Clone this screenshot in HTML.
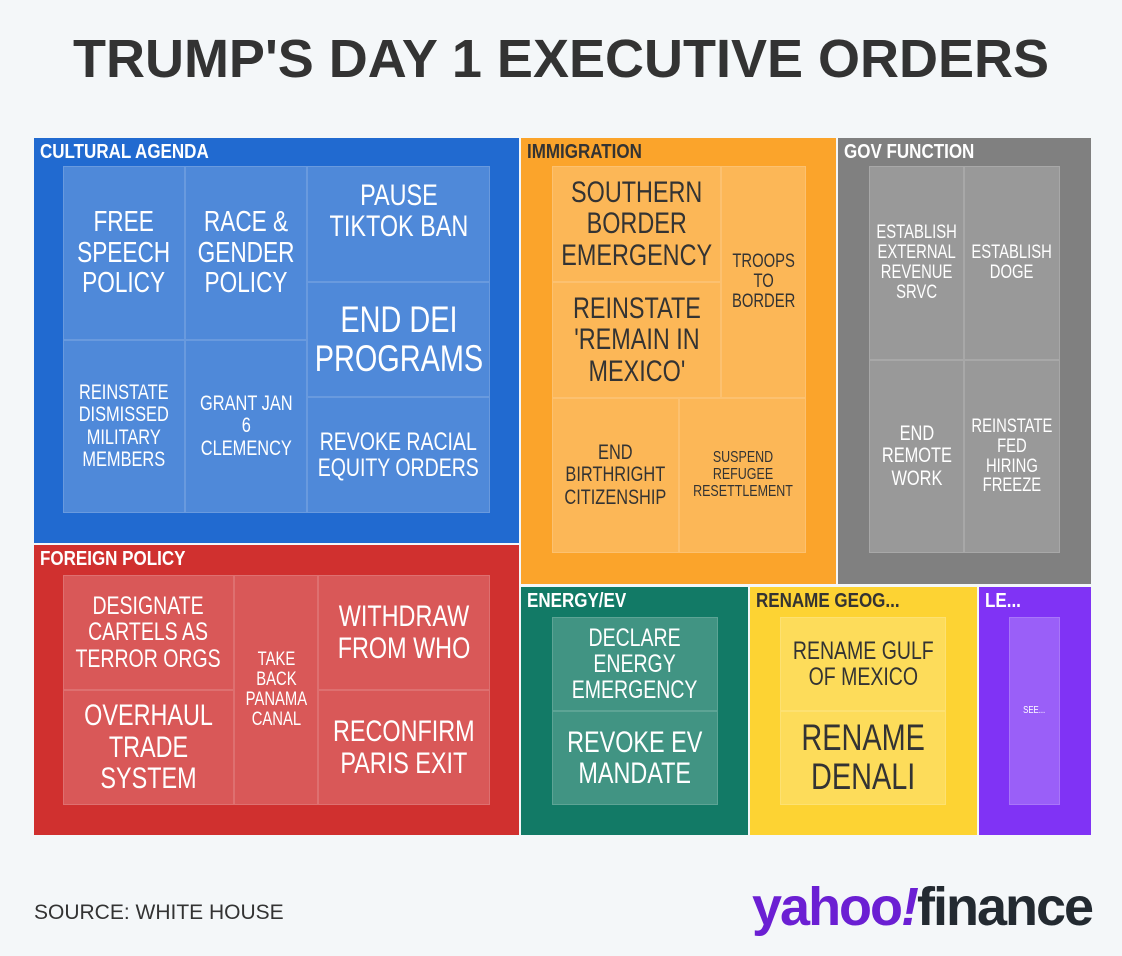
<!DOCTYPE html>
<html><head><meta charset="utf-8"><style>
*{margin:0;padding:0;box-sizing:border-box}
body{width:1122px;height:956px;background:#f4f7f9;position:relative;overflow:hidden;font-family:"Liberation Sans",sans-serif}
.t{position:absolute;left:0;width:1122px;top:28px;text-align:center;font-weight:bold;font-size:54px;color:#333}
.g{position:absolute}
.h{position:absolute;left:6px;top:3px;font-weight:bold;font-size:20px;color:#fff;white-space:nowrap;transform:scaleX(0.85);transform-origin:left top}
.c{position:absolute;display:flex;align-items:center;justify-content:center;text-align:center;color:#fff;line-height:1.05;border:1px solid rgba(255,255,255,0.15);overflow:visible}
.c span{display:inline-block;white-space:nowrap;transform:scaleX(0.78)}
.src{position:absolute;left:34px;top:901px;font-size:21px;color:#333}
.logo{position:absolute;left:752px;top:876px;font-weight:bold;font-size:54px;letter-spacing:-2px;white-space:nowrap}
</style></head><body>
<div class="t">TRUMP'S DAY 1 EXECUTIVE ORDERS</div>

<div class="g" style="left:34px;top:138px;width:485px;height:405px;background:#216ad0"><div class="h">CULTURAL AGENDA</div></div>
<div class="c" style="left:63px;top:166px;width:122px;height:174px;background:#4f89d9;font-size:29px"><span>FREE<br>SPEECH<br>POLICY</span></div>
<div class="c" style="left:185px;top:166px;width:122px;height:174px;background:#4f89d9;font-size:29px"><span>RACE &amp;<br>GENDER<br>POLICY</span></div>
<div class="c" style="left:63px;top:340px;width:122px;height:173px;background:#4f89d9;font-size:21px"><span>REINSTATE<br>DISMISSED<br>MILITARY<br>MEMBERS</span></div>
<div class="c" style="left:185px;top:340px;width:122px;height:173px;background:#4f89d9;font-size:21px"><span>GRANT JAN<br>6<br>CLEMENCY</span></div>
<div class="c" style="left:307px;top:166px;width:183px;height:116px;background:#4f89d9;font-size:30px;padding-bottom:26px"><span>PAUSE<br>TIKTOK BAN</span></div>
<div class="c" style="left:307px;top:282px;width:183px;height:115px;background:#4f89d9;font-size:37px"><span>END DEI<br>PROGRAMS</span></div>
<div class="c" style="left:307px;top:397px;width:183px;height:116px;background:#4f89d9;font-size:25px"><span>REVOKE RACIAL<br>EQUITY ORDERS</span></div>

<div class="g" style="left:34px;top:545px;width:485px;height:290px;background:#d0302f"><div class="h">FOREIGN POLICY</div></div>
<div class="c" style="left:63px;top:575px;width:171px;height:115px;background:#d95858;font-size:25px"><span>DESIGNATE<br>CARTELS AS<br>TERROR ORGS</span></div>
<div class="c" style="left:63px;top:690px;width:171px;height:115px;background:#d95858;font-size:30px"><span>OVERHAUL<br>TRADE<br>SYSTEM</span></div>
<div class="c" style="left:234px;top:575px;width:84px;height:230px;background:#d95858;font-size:19px"><span>TAKE<br>BACK<br>PANAMA<br>CANAL</span></div>
<div class="c" style="left:318px;top:575px;width:172px;height:115px;background:#d95858;font-size:30px"><span>WITHDRAW<br>FROM WHO</span></div>
<div class="c" style="left:318px;top:690px;width:172px;height:115px;background:#d95858;font-size:30px"><span>RECONFIRM<br>PARIS EXIT</span></div>

<div class="g" style="left:521px;top:138px;width:315px;height:446px;background:#fba42b"><div class="h" style="color:#333">IMMIGRATION</div></div>
<div class="c" style="left:552px;top:166px;width:169px;height:116px;background:#fcb757;color:#333;font-size:30px"><span>SOUTHERN<br>BORDER<br>EMERGENCY</span></div>
<div class="c" style="left:552px;top:282px;width:169px;height:116px;background:#fcb757;color:#333;font-size:30px"><span>REINSTATE<br>'REMAIN IN<br>MEXICO'</span></div>
<div class="c" style="left:721px;top:166px;width:85px;height:232px;background:#fcb757;color:#333;font-size:19px"><span>TROOPS<br>TO<br>BORDER</span></div>
<div class="c" style="left:552px;top:398px;width:127px;height:155px;background:#fcb757;color:#333;font-size:21px"><span>END<br>BIRTHRIGHT<br>CITIZENSHIP</span></div>
<div class="c" style="left:679px;top:398px;width:127px;height:155px;background:#fcb757;color:#333;font-size:16px"><span>SUSPEND<br>REFUGEE<br>RESETTLEMENT</span></div>

<div class="g" style="left:838px;top:138px;width:253px;height:446px;background:#808080"><div class="h">GOV FUNCTION</div></div>
<div class="c" style="left:869px;top:166px;width:95px;height:194px;background:#999;font-size:19px"><span>ESTABLISH<br>EXTERNAL<br>REVENUE<br>SRVC</span></div>
<div class="c" style="left:964px;top:166px;width:96px;height:194px;background:#999;font-size:19px"><span>ESTABLISH<br>DOGE</span></div>
<div class="c" style="left:869px;top:360px;width:95px;height:193px;background:#999;font-size:21px"><span>END<br>REMOTE<br>WORK</span></div>
<div class="c" style="left:964px;top:360px;width:96px;height:193px;background:#999;font-size:19px"><span>REINSTATE<br>FED<br>HIRING<br>FREEZE</span></div>

<div class="g" style="left:521px;top:587px;width:227px;height:248px;background:#127a66"><div class="h">ENERGY/EV</div></div>
<div class="c" style="left:552px;top:617px;width:166px;height:94px;background:#419483;font-size:25px"><span>DECLARE<br>ENERGY<br>EMERGENCY</span></div>
<div class="c" style="left:552px;top:711px;width:166px;height:94px;background:#419483;font-size:30px"><span>REVOKE EV<br>MANDATE</span></div>

<div class="g" style="left:750px;top:587px;width:227px;height:248px;background:#fdd333"><div class="h" style="color:#333">RENAME GEOG...</div></div>
<div class="c" style="left:780px;top:617px;width:166px;height:94px;background:#fddc5a;color:#333;font-size:25px"><span>RENAME GULF<br>OF MEXICO</span></div>
<div class="c" style="left:780px;top:711px;width:166px;height:94px;background:#fddc5a;color:#333;font-size:37px"><span>RENAME<br>DENALI</span></div>

<div class="g" style="left:979px;top:587px;width:112px;height:248px;background:#8033f5"><div class="h">LE...</div></div>
<div class="c" style="left:1009px;top:617px;width:51px;height:188px;background:#9a5ff8;font-size:10px"><span>SEE...</span></div>

<div class="src">SOURCE: WHITE HOUSE</div>
<div class="logo"><span style="color:#6b1fd3">yahoo<i>!</i></span><span style="color:#232a31">finance</span></div>
</body></html>
